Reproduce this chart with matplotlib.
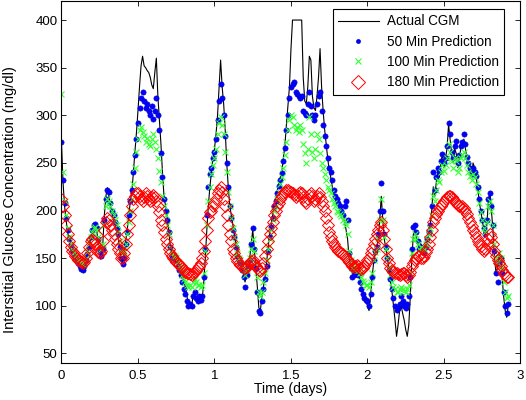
import numpy as np
import matplotlib
matplotlib.use("Agg")
import matplotlib.pyplot as plt

plt.rcParams['font.family'] = ['Liberation Sans', 'DejaVu Sans']

dt_days = 0.01  # sampling interval of the arrays below

cgm = [
    272, 230, 205, 190, 178, 168, 162, 158, 155, 152,
    150, 148, 145, 142, 140, 145, 150, 155, 162, 170,
    178, 182, 184, 180, 165, 155, 152, 165, 195, 215,
    224, 215, 205, 198, 192, 185, 180, 172, 160, 148,
    145, 155, 168, 180, 195, 210, 220, 240, 262, 282,
    305, 330, 352, 362, 352, 350, 347, 345, 340, 332,
    328, 345, 360, 320, 295, 270, 240, 215, 205, 195,
    180, 165, 155, 152, 155, 150, 145, 142, 140, 135,
    125, 120, 110, 102, 100, 98, 112, 115, 105, 110,
    110, 105, 108, 125, 150, 180, 205, 225, 240, 255,
    265, 280, 300, 330, 358, 330, 312, 285, 250, 225,
    205, 195, 185, 175, 165, 155, 150, 148, 140, 132,
    125, 135, 145, 150, 165, 180, 160, 140, 120, 98,
    95, 110, 120, 130, 145, 160, 175, 185, 195, 205,
    212, 220, 228, 235, 240, 255, 268, 290, 310, 330,
    370, 400, 400, 400, 400, 400, 400, 400, 340, 315,
    312, 330, 362, 358, 320, 308, 305, 320, 340, 370,
    330, 305, 285, 270, 255, 242, 235, 225, 218, 212,
    208, 205, 203, 200, 195, 188, 180, 170, 150, 140,
    135, 130, 135, 140, 135, 128, 120, 115, 110, 105,
    100, 95, 110, 130, 145, 155, 160, 170, 190, 215,
    190, 170, 160, 150, 140, 125, 115, 100, 85, 68,
    80, 95, 100, 92, 85, 75, 68, 80, 110, 150,
    175, 180, 172, 165, 160, 165, 160, 158, 165, 170,
    175, 185, 200, 225, 215, 230, 240, 235, 250, 260,
    245, 255, 265, 290, 275, 260, 250, 265, 260, 245,
    255, 265, 270, 275, 265, 255, 245, 240, 235, 250,
    245, 235, 225, 210, 200, 190, 180, 172, 185, 210,
    220, 200, 180, 150, 135, 140, 155, 150, 130, 110,
    95, 88, 100,
]

pred50 = [
    272, 232, 208, 192, 180, 170, 163, 158, 154, 151,
    148, 145, 142, 139, 138, 142, 148, 154, 162, 172,
    180, 185, 186, 182, 170, 158, 152, 160, 190, 212,
    222, 220, 208, 200, 195, 188, 182, 175, 162, 150,
    144, 150, 165, 178, 195, 210, 222, 240, 258, 275,
    292, 308, 318, 325, 315, 308, 312, 305, 300, 310,
    296, 305, 318, 300, 285, 260, 235, 212, 200, 190,
    178, 162, 152, 150, 152, 148, 142, 138, 132, 125,
    118, 112, 105, 100, 102, 100, 110, 115, 108, 105,
    110, 106, 110, 130, 160, 195, 225, 238, 245, 255,
    262, 275, 295, 315, 333, 318, 300, 278, 250, 225,
    205, 192, 180, 172, 162, 152, 148, 145, 138, 130,
    120, 132, 142, 148, 165, 182, 160, 140, 115, 95,
    92, 105, 118, 128, 142, 158, 172, 183, 192, 205,
    210, 218, 226, 232, 239, 252, 266, 285, 300, 318,
    330, 333, 335, 325, 322, 320, 318, 320, 305, 302,
    300, 312, 325, 310, 300, 295, 300, 312, 320, 325,
    305, 290, 278, 268, 255, 245, 240, 232, 222, 215,
    212, 208, 205, 200, 195, 205, 210, 190, 155, 140,
    130, 132, 138, 140, 132, 125, 118, 112, 108, 106,
    105, 100, 112, 130, 148, 158, 162, 175, 200, 229,
    200, 175, 162, 150, 138, 128, 118, 108, 100, 96,
    98, 102, 110, 105, 100, 98, 102, 110, 130, 160,
    183, 185, 178, 168, 160, 162, 158, 155, 162, 170,
    178, 185, 205, 240, 222, 235, 245, 240, 252, 259,
    250, 255, 268, 292, 280, 262, 255, 268, 273, 250,
    258, 268, 272, 280, 270, 256, 250, 245, 238, 245,
    240, 236, 225, 212, 200, 190, 182, 175, 190, 212,
    218, 205, 185, 158, 134, 125, 145, 150, 135, 115,
    100, 92, 102,
]

pred100 = [
    322, 240, 210, 195, 182, 172, 165, 160, 156, 152,
    150, 148, 146, 145, 144, 146, 150, 156, 165, 172,
    178, 182, 183, 180, 172, 162, 160, 165, 185, 205,
    212, 210, 205, 200, 195, 190, 185, 178, 168, 158,
    155, 158, 165, 175, 188, 200, 212, 228, 245, 262,
    275, 285, 288, 282, 278, 272, 276, 270, 268, 275,
    280, 272, 265, 255, 242, 230, 215, 205, 195, 185,
    175, 162, 155, 152, 152, 150, 146, 142, 138, 132,
    128, 125, 122, 120, 122, 120, 125, 128, 125, 122,
    122, 120, 122, 135, 158, 185, 210, 225, 238, 248,
    255, 265, 280, 292, 298, 290, 280, 262, 240, 220,
    205, 192, 182, 172, 165, 155, 150, 148, 142, 138,
    132, 138, 145, 150, 160, 170, 158, 145, 130, 115,
    110, 115, 125, 135, 148, 160, 170, 180, 190, 200,
    205, 212, 220, 228, 235, 245, 258, 272, 285, 295,
    300, 298, 290, 285, 288, 282, 290, 285, 270, 260,
    250, 265, 298, 280, 262, 255, 265, 280, 275, 260,
    250, 245, 238, 232, 225, 222, 218, 212, 208, 205,
    200, 198, 196, 194, 190, 188, 185, 175, 158, 148,
    140, 138, 140, 142, 138, 135, 130, 126, 124, 122,
    122, 120, 125, 135, 148, 156, 160, 170, 190, 212,
    190, 172, 160, 150, 140, 132, 125, 120, 118, 115,
    115, 118, 120, 118, 116, 115, 118, 122, 135, 155,
    170, 175, 170, 165, 160, 162, 158, 160, 165, 170,
    175, 182, 195, 215, 210, 222, 232, 230, 240, 248,
    242, 248, 255, 270, 262, 252, 245, 255, 252, 240,
    245, 255, 258, 262, 255, 248, 240, 236, 232, 238,
    235, 228, 220, 208, 198, 190, 182, 178, 188, 205,
    210, 200, 185, 165, 150, 145, 155, 150, 140, 125,
    115, 108, 110,
]

pred180 = [
    212, 205, 195, 185, 175, 168, 162, 158, 155, 152,
    150, 148, 147, 146, 145, 146, 150, 155, 162, 168,
    170, 168, 165, 160, 157, 155, 158, 168, 180, 188,
    192, 190, 185, 180, 175, 170, 165, 160, 155, 150,
    150, 155, 165, 175, 185, 195, 205, 212, 215, 218,
    218, 215, 212, 210, 214, 218, 215, 212, 210, 214,
    216, 214, 210, 205, 198, 190, 185, 178, 170, 165,
    160, 155, 152, 150, 148, 146, 145, 143, 142, 140,
    138, 136, 135, 134, 133, 132, 134, 136, 138, 140,
    142, 145, 150, 158, 168, 180, 192, 198, 200, 205,
    208, 212, 218, 222, 225, 220, 212, 205, 195, 185,
    175, 168, 160, 155, 150, 147, 145, 143, 142, 140,
    140, 141, 143, 145, 147, 148, 145, 142, 140, 138,
    137, 140, 145, 152, 160, 168, 175, 182, 188, 195,
    200, 205, 208, 212, 215, 218, 220, 222, 222, 221,
    220, 218, 216, 214, 216, 218, 220, 218, 214, 210,
    208, 212, 216, 218, 215, 210, 212, 215, 218, 214,
    210, 205, 200, 192, 185, 178, 172, 168, 165, 162,
    160, 158, 156, 155, 154, 152, 150, 148, 146, 144,
    142, 141, 142, 143, 142, 140, 139, 140, 142, 145,
    148, 150, 155, 160, 165, 170, 175, 180, 185, 188,
    180, 170, 160, 150, 145, 140, 138, 136, 135, 134,
    133, 132, 133, 135, 134, 132, 130, 132, 136, 142,
    145, 148, 150, 152, 152, 150, 150, 152, 156, 160,
    165, 172, 180, 188, 192, 196, 200, 203, 205, 207,
    210, 212, 214, 215, 215, 214, 212, 210, 208, 206,
    205, 204, 205, 203, 200, 196, 192, 188, 184, 180,
    176, 172, 168, 165, 163, 160, 158, 160, 165, 170,
    175, 172, 165, 158, 152, 148, 145, 142, 138, 134,
    132, 130, 130,
]

x_ticks = [0, 0.5, 1, 1.5, 2, 2.5, 3]
x_tick_labels = ["0", "0.5", "1", "1.5", "2", "2.5", "3"]
y_ticks = [50, 100, 150, 200, 250, 300, 350, 400]
series_labels = ["Actual CGM", "50 Min Prediction", "100 Min Prediction", "180 Min Prediction"]

t = np.arange(len(cgm)) * dt_days

fig = plt.figure(figsize=(5.26, 4.0), dpi=100)
ax = fig.add_axes([0.1169, 0.0925, 0.8726, 0.905])

ax.plot(t, cgm, color='black', lw=0.8, label=series_labels[0])
ax.plot(t, pred50, linestyle='none', marker='o', ms=3.8, color='#0000ff',
        mec='#0000cc', mew=0.4, label=series_labels[1])
ax.plot(t, pred100, linestyle='none', marker='x', ms=4.5, mew=0.8,
        color='#33ff33', label=series_labels[2])
ax.plot(t, pred180, linestyle='none', marker='D', ms=6.3, mew=0.7,
        mfc='none', mec='#ff0000', label=series_labels[3])

ax.set_xlim(0, 3)
ax.set_ylim(40, 420)
ax.set_xticks(x_ticks)
ax.set_xticklabels(x_tick_labels)
ax.set_yticks(y_ticks)
ax.tick_params(direction='in', length=3.5, width=0.6, top=True, right=True,
               labelsize=9.5, colors='black')
ax.tick_params(axis='x', pad=5)
ax.tick_params(axis='y', pad=3)
for s in ax.spines.values():
    s.set_linewidth(0.8)

ax.set_xlabel("Time (days)", fontsize=10)
ax.set_ylabel("Interstitial Glucose Concentration (mg/dl)", fontsize=10.5)
ax.xaxis.set_label_coords(0.5, -0.053)
ax.yaxis.set_label_coords(-0.097, 0.452)

leg = ax.legend(loc='upper right', bbox_to_anchor=(0.965, 0.978), fontsize=9.75,
                frameon=True, fancybox=False, edgecolor='black', framealpha=1,
                handlelength=3.0, labelspacing=0.47, borderpad=0.4,
                handletextpad=0.6, borderaxespad=0.0)
leg.get_frame().set_linewidth(0.8)
leg_handles = leg.legend_handles if hasattr(leg, 'legend_handles') else leg.legendHandles
leg_handles[1].set_markersize(3.0)
leg_handles[2].set_markersize(4.0)
leg_handles[3].set_markersize(7.0)

fig.savefig("out.png", dpi=100)
